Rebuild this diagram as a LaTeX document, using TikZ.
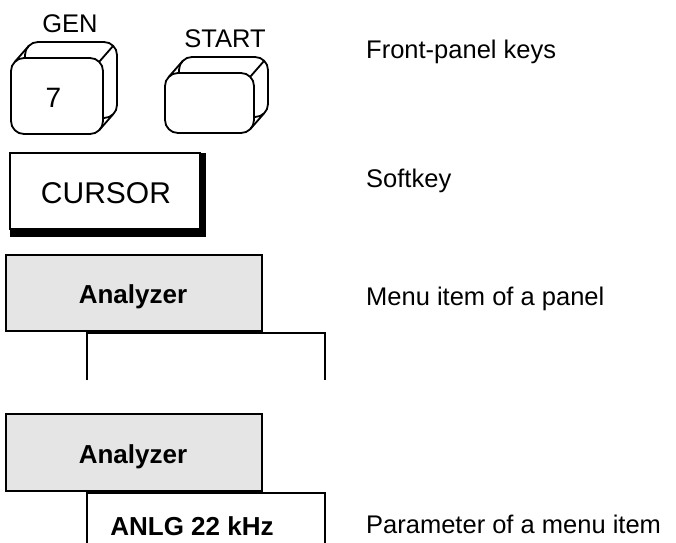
\documentclass[tikz,border=0pt]{standalone}
\usepackage{fontspec}
\setmainfont{Liberation Sans}
\begin{document}
\begin{tikzpicture}[x=1pt,y=-1pt]
\tikzstyle{every node}+=[inner sep=0pt]
\tikzset{
  keyface/.style={line width=1.8pt, fill=white, rounded corners=13pt},
  keyedge/.style={line width=1.8pt},
  panelbox/.style={line width=1.8pt, fill=gray!20},
  subpanel/.style={line width=1.8pt},
  keylabel/.style={font=\fontsize{25.5}{30}\selectfont, anchor=base},
  note/.style={font=\fontsize{25.5}{30}\selectfont, anchor=base west},
  itemlabel/.style={font=\fontsize{26}{30}\selectfont\bfseries, anchor=base}
}
\useasboundingbox (0,0) rectangle (676,542);
% front-panel keys
\foreach \xa/\ya/\xb/\yb in {11/58/103/134, 165/73/254/133} {
  \draw [keyface] (\xa+14,\ya-16) rectangle (\xb+14,\yb-16);
  \draw [keyface] (\xa,\ya) rectangle (\xb,\yb);
  \draw [keyedge] (\xa+3.81,\ya+3.81) -- (\xa+17.81,\ya-12.19);
  \draw [keyedge] (\xb-3.81,\ya+3.81) -- (\xb+10.19,\ya-12.19);
  \draw [keyedge] (\xb-3.81,\yb-3.81) -- (\xb+10.19,\yb-19.81);
}
\node (gen) at (70,32) [keylabel] {GEN};
\node (seven) at (53.5,107) [keylabel, font=\fontsize{28}{32}\selectfont] {7};
\node (start) at (225,47) [keylabel] {START};
% softkey
\draw [line width=1.5pt] (10,153) rectangle (200,229);
\fill [black] (200,153) rectangle (206,237);
\fill [black] (10,229) rectangle (206,237);
\node (cursor) at (106,203) [keylabel, font=\fontsize{30}{34}\selectfont] {CURSOR};
% menu items
\draw [panelbox] (6,255) rectangle (262,331);
\draw [subpanel] (87,380) -- (87,333) -- (325,333) -- (325,380);
\node (menu) at (133,303) [itemlabel] {Analyzer};
\draw [panelbox] (6,414) rectangle (262,491);
\draw [subpanel] (87,545) -- (87,493) -- (325,493) -- (325,545);
\node (menub) at (133,463) [itemlabel] {Analyzer};
\node (param) at (192,535) [itemlabel] {ANLG 22 kHz};
% explanations
\node (t1) at (366,58) [note] {Front-panel keys};
\node (t2) at (366,187) [note] {Softkey};
\node (t3) at (366,305) [note] {Menu item of a panel};
\node (t4) at (366,533) [note] {Parameter of a menu item};
\end{tikzpicture}
\end{document}
